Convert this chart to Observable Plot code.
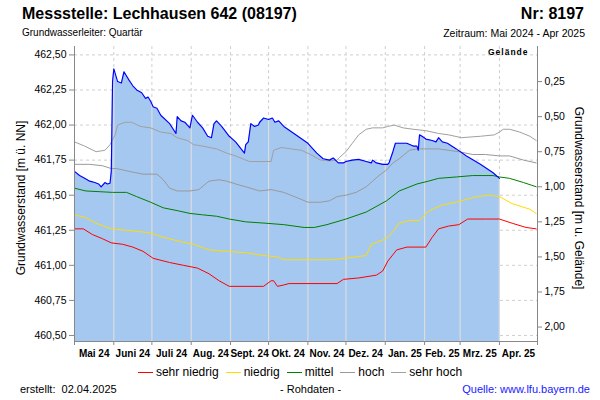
<!DOCTYPE html>
<html><head><meta charset="utf-8">
<script src="https://cdn.jsdelivr.net/npm/d3@7"></script>
<script src="https://cdn.jsdelivr.net/npm/@observablehq/plot@0.6"></script>
<style>
body{margin:0;background:#fff;font-family:"Liberation Sans",Arial,sans-serif;}
#wrap{position:relative;width:600px;height:400px;overflow:hidden;background:#fff;}
.t{position:absolute;white-space:nowrap;color:#000;}
#chart{position:absolute;left:0;top:40px;}
#legend{position:absolute;left:0;top:366px;width:600px;display:flex;justify-content:center;font-size:12px;line-height:12px;}
#legend .it{display:flex;align-items:center;margin:0 3.5px;}
#legend .sw{display:inline-block;width:15px;height:0;border-top:1px solid;margin-right:3px;margin-top:1px;}
</style></head><body>
<div id="wrap">
 <div class="t" style="left:22px;top:6px;font-size:16px;line-height:16px;font-weight:bold">Messstelle: Lechhausen 642 (08197)</div>
 <div class="t" style="right:16px;top:6px;font-size:16px;line-height:16px;font-weight:bold">Nr: 8197</div>
 <div class="t" style="left:22px;top:28px;font-size:10px;line-height:10px">Grundwasserleiter: Quartär</div>
 <div class="t" style="right:15px;top:27.5px;font-size:10.5px;line-height:10.5px">Zeitraum: Mai 2024 - Apr 2025</div>
 <div id="chart"></div>
 <div id="legend"></div>
 <div class="t" style="left:20px;top:384px;font-size:11px;line-height:11px">erstellt:&nbsp; 02.04.2025</div>
 <div class="t" style="left:280px;top:384px;font-size:11px;line-height:11px">- Rohdaten -</div>
 <div class="t" style="right:10px;top:384px;font-size:11px;line-height:11px;color:#1a1aff">Quelle: www.lfu.bayern.de</div>
</div>
<script>
// ---- data ----
const monthLabels = ["Mai 24","Juni 24","Juli 24","Aug. 24","Sept. 24","Okt. 24","Nov. 24","Dez. 24","Jan. 25","Feb. 25","Mrz. 25","Apr. 25"];
const yTicks = [460.5, 460.75, 461.0, 461.25, 461.5, 461.75, 462.0, 462.25, 462.5];
const depthTicks = [0.25, 0.5, 0.75, 1.0, 1.25, 1.5, 1.75, 2.0];
const gelaende = 462.56;      // ground level [m ü. NN]
const yBottom = 460.457;      // lower end of the value axis
const periodStart = "2024-05-01", periodEnd = "2025-05-01";

const messwerte = [["2024-05-01",461.67],["2024-05-05",461.64],["2024-05-09",461.62],["2024-05-13",461.60],["2024-05-17",461.59],["2024-05-20",461.58],["2024-05-22",461.56],["2024-05-25",461.59],["2024-05-27",461.58],["2024-05-29",461.585],["2024-05-30",461.67],["2024-05-31",462.31],["2024-06-01",462.40],["2024-06-04",462.31],["2024-06-07",462.30],["2024-06-09",462.38],["2024-06-13",462.32],["2024-06-16",462.28],["2024-06-19",462.25],["2024-06-23",462.23],["2024-06-26",462.19],["2024-06-28",462.20],["2024-06-30",462.17],["2024-07-02",462.13],["2024-07-05",462.12],["2024-07-08",462.07],["2024-07-15",462.01],["2024-07-20",461.94],["2024-07-21",462.06],["2024-07-24",462.03],["2024-07-27",462.02],["2024-07-29",462.00],["2024-07-31",461.98],["2024-08-02",462.07],["2024-08-06",462.02],["2024-08-10",461.98],["2024-08-14",461.92],["2024-08-17",461.91],["2024-08-19",462.01],["2024-08-21",462.03],["2024-08-25",461.99],["2024-08-31",461.92],["2024-09-05",461.88],["2024-09-12",461.80],["2024-09-13",461.86],["2024-09-15",461.88],["2024-09-17",462.01],["2024-09-20",461.99],["2024-09-23",462.00],["2024-09-24",462.02],["2024-09-27",462.05],["2024-10-01",462.04],["2024-10-04",462.05],["2024-10-06",462.02],["2024-10-09",462.03],["2024-10-13",461.99],["2024-10-21",461.94],["2024-11-01",461.87],["2024-11-08",461.80],["2024-11-13",461.76],["2024-11-18",461.75],["2024-11-21",461.765],["2024-11-25",461.73],["2024-11-29",461.73],["2024-12-01",461.74],["2024-12-06",461.75],["2024-12-11",461.755],["2024-12-17",461.74],["2024-12-21",461.73],["2024-12-22",461.75],["2024-12-25",461.73],["2024-12-30",461.72],["2025-01-03",461.72],["2025-01-04",461.73],["2025-01-07",461.81],["2025-01-09",461.87],["2025-01-12",461.87],["2025-01-18",461.87],["2025-01-23",461.85],["2025-01-26",461.85],["2025-01-27",461.82],["2025-01-28",461.93],["2025-01-30",461.92],["2025-02-02",461.90],["2025-02-07",461.89],["2025-02-10",461.88],["2025-02-12",461.91],["2025-02-15",461.88],["2025-02-19",461.87],["2025-02-26",461.83],["2025-03-06",461.78],["2025-03-17",461.72],["2025-03-27",461.66],["2025-04-01",461.62]];

const sehrHoch = [["2024-05-01",461.88],["2024-05-09",461.85],["2024-05-18",461.81],["2024-05-25",461.82],["2024-05-29",461.86],["2024-06-02",461.93],["2024-06-04",462.00],["2024-06-10",462.02],["2024-06-15",462.02],["2024-06-22",461.99],["2024-06-30",461.98],["2024-07-08",461.95],["2024-07-16",461.94],["2024-07-21",461.91],["2024-07-29",461.89],["2024-08-03",461.86],["2024-08-10",461.85],["2024-08-21",461.83],["2024-08-29",461.80],["2024-09-05",461.78],["2024-09-13",461.75],["2024-09-16",461.74],["2024-10-03",461.74],["2024-10-05",461.82],["2024-10-11",461.84],["2024-10-19",461.83],["2024-10-27",461.82],["2024-11-03",461.79],["2024-11-11",461.75],["2024-11-18",461.745],["2024-11-24",461.75],["2024-11-26",461.77],["2024-12-01",461.81],["2024-12-06",461.87],["2024-12-11",461.93],["2024-12-17",461.97],["2024-12-22",461.98],["2024-12-30",461.98],["2025-01-03",461.99],["2025-01-08",462.00],["2025-01-15",461.98],["2025-01-23",461.97],["2025-02-02",461.96],["2025-02-12",461.94],["2025-02-20",461.93],["2025-03-02",461.91],["2025-03-17",461.92],["2025-03-28",461.93],["2025-04-01",461.95],["2025-04-04",461.97],["2025-04-09",461.97],["2025-04-17",461.95],["2025-04-25",461.92],["2025-04-30",461.89]];

const hoch = [["2024-05-01",461.72],["2024-05-13",461.72],["2024-05-23",461.71],["2024-05-30",461.69],["2024-06-03",461.69],["2024-06-13",461.67],["2024-06-24",461.65],["2024-07-05",461.65],["2024-07-10",461.61],["2024-07-15",461.55],["2024-07-21",461.53],["2024-07-31",461.53],["2024-08-07",461.54],["2024-08-15",461.60],["2024-08-23",461.61],["2024-08-29",461.60],["2024-09-05",461.58],["2024-09-13",461.56],["2024-09-24",461.53],["2024-10-03",461.54],["2024-10-13",461.52],["2024-10-24",461.48],["2024-11-01",461.45],["2024-11-11",461.45],["2024-11-18",461.46],["2024-11-24",461.49],["2024-12-01",461.50],["2024-12-09",461.52],["2024-12-17",461.56],["2024-12-22",461.60],["2024-12-27",461.64],["2025-01-02",461.68],["2025-01-07",461.73],["2025-01-12",461.76],["2025-01-20",461.82],["2025-01-26",461.83],["2025-02-12",461.83],["2025-02-20",461.82],["2025-02-28",461.81],["2025-03-11",461.79],["2025-03-21",461.79],["2025-04-01",461.78],["2025-04-09",461.78],["2025-04-20",461.75],["2025-04-30",461.73]];

const mittel = [["2024-05-01",461.55],["2024-05-10",461.53],["2024-05-31",461.52],["2024-06-11",461.52],["2024-06-19",461.49],["2024-06-30",461.45],["2024-07-10",461.41],["2024-07-21",461.39],["2024-07-31",461.37],["2024-08-10",461.36],["2024-08-21",461.35],["2024-08-31",461.33],["2024-09-13",461.31],["2024-09-29",461.30],["2024-10-13",461.29],["2024-10-29",461.27],["2024-11-06",461.27],["2024-11-16",461.29],["2024-12-01",461.33],["2024-12-17",461.38],["2025-01-02",461.46],["2025-01-12",461.53],["2025-01-26",461.58],["2025-02-04",461.60],["2025-02-12",461.62],["2025-02-26",461.63],["2025-03-11",461.64],["2025-03-27",461.64],["2025-04-01",461.63],["2025-04-09",461.62],["2025-04-20",461.59],["2025-04-30",461.56]];

const niedrig = [["2024-05-01",461.36],["2024-05-10",461.34],["2024-05-18",461.30],["2024-05-30",461.26],["2024-06-11",461.25],["2024-06-22",461.24],["2024-06-30",461.23],["2024-07-10",461.20],["2024-07-23",461.17],["2024-08-03",461.15],["2024-08-15",461.11],["2024-08-29",461.10],["2024-09-13",461.09],["2024-09-27",461.07],["2024-10-08",461.06],["2024-10-13",461.04],["2024-11-21",461.04],["2024-11-29",461.05],["2024-12-09",461.06],["2024-12-17",461.07],["2024-12-21",461.15],["2024-12-27",461.17],["2025-01-02",461.19],["2025-01-07",461.24],["2025-01-12",461.30],["2025-01-20",461.32],["2025-01-28",461.32],["2025-02-02",461.37],["2025-02-07",461.40],["2025-02-15",461.43],["2025-02-26",461.45],["2025-03-06",461.47],["2025-03-14",461.49],["2025-03-24",461.50],["2025-04-01",461.49],["2025-04-11",461.44],["2025-04-25",461.40],["2025-04-30",461.37]];

const sehrNiedrig = [["2024-05-01",461.26],["2024-05-08",461.26],["2024-05-15",461.22],["2024-05-23",461.19],["2024-05-30",461.16],["2024-06-08",461.15],["2024-06-16",461.13],["2024-06-24",461.10],["2024-07-02",461.05],["2024-07-15",461.02],["2024-07-26",461.00],["2024-08-06",460.98],["2024-08-15",460.94],["2024-08-23",460.89],["2024-08-31",460.85],["2024-09-27",460.85],["2024-10-03",460.89],["2024-10-05",460.89],["2024-10-08",460.85],["2024-10-13",460.86],["2024-10-17",460.87],["2024-11-24",460.87],["2024-11-29",460.90],["2024-12-11",460.91],["2024-12-25",460.93],["2024-12-30",460.96],["2025-01-03",461.03],["2025-01-10",461.11],["2025-01-18",461.13],["2025-02-02",461.13],["2025-02-07",461.20],["2025-02-12",461.26],["2025-02-20",461.28],["2025-02-28",461.29],["2025-03-07",461.33],["2025-03-21",461.33],["2025-04-01",461.33],["2025-04-11",461.30],["2025-04-22",461.27],["2025-04-30",461.26]];

const series = [
  {name:"sehr niedrig", data:sehrNiedrig, color:"#ff0000"},
  {name:"niedrig", data:niedrig, color:"#ffdd00"},
  {name:"mittel", data:mittel, color:"#008000"},
  {name:"hoch", data:hoch, color:"#999999"},
  {name:"sehr hoch", data:sehrHoch, color:"#a0a0a0"}
];

// ---- build ----
const parse = d3.utcParse("%Y-%m-%d");
const toRows = arr => arr.map(([d, v]) => ({date: parse(d), value: v}));
const mess = toRows(messwerte);
const x0 = parse(periodStart), x1 = parse(periodEnd);
const monthStarts = d3.utcMonth.range(x0, d3.utcDay.offset(x1, 1));
const monthMids = monthStarts.slice(0, -1).map((d, i) => new Date((+d + +monthStarts[i + 1]) / 2));
const fmt = v => v.toFixed(2).replace(".", ",");
const bis = d3.bisector(d => d.date).left;
function levelAt(t) {
  const i = bis(mess, t);
  if (i <= 0) return mess[0].value;
  if (i >= mess.length) return mess[mess.length - 1].value;
  const a = mess[i - 1], b = mess[i];
  return a.value + (b.value - a.value) * (t - a.date) / (b.date - a.date);
}
const innerMonths = monthStarts.filter(d => d > mess[0].date && d <= mess[mess.length - 1].date);

const statMarks = series.map(s => Plot.line(toRows(s.data), {x: "date", y: "value", stroke: s.color, strokeWidth: 1}));

const chart = Plot.plot({
  width: 600, height: 322,
  marginLeft: 74, marginRight: 63, marginTop: 6, marginBottom: 21,
  x: {type: "utc", domain: [x0, x1]},
  y: {domain: [yBottom, gelaende]},
  style: {fontFamily: "'Liberation Sans', Arial, sans-serif", fontSize: "10.5px", color: "#000", background: "#fff", overflow: "visible"},
  marks: [
    Plot.gridY({ticks: yTicks, stroke: "#cfcfcf", strokeOpacity: 1, strokeDasharray: "3,3"}),
    Plot.gridX({ticks: monthStarts.slice(1, -1), stroke: "#cfcfcf", strokeOpacity: 1, strokeDasharray: "3,3"}),
    Plot.area(mess, {x1: "date", y1: () => yBottom, y2: "value", fill: "#a5c8f0"}),
    Plot.ruleX(innerMonths, {x: d => d, y1: () => yBottom, y2: d => levelAt(d), stroke: "#dcdcdc", strokeWidth: 1.2}),
    ...statMarks,
    Plot.line(mess, {x: "date", y: "value", stroke: "#0000ff", strokeWidth: 1.15}),
    Plot.ruleX([x0, x1], {stroke: "#888"}),
    Plot.ruleY([yBottom], {stroke: "#888"}),
    Plot.axisY({ticks: yTicks, anchor: "left", tickSize: 5, tickPadding: 3, tickFormat: fmt, label: null, stroke: "#888", fill: "#000"}),
    Plot.axisY({ticks: depthTicks.map(d => gelaende - d), anchor: "right", tickSize: 4, tickPadding: 3, tickFormat: v => fmt(gelaende - v), label: null, stroke: "#888", fill: "#000"}),
    Plot.axisX({ticks: monthStarts, tickSize: 4, tickFormat: () => "", label: null, stroke: "#888"}),
    Plot.axisX({ticks: monthMids, tickSize: 0, tickPadding: 8, tickFormat: (d, i) => monthLabels[i], label: null, fontWeight: "bold", fontSize: 10, fill: "#000"}),
    Plot.text(["Gelände"], {frameAnchor: "top-right", dx: -9, dy: 2, textAnchor: "end", lineAnchor: "top", fontSize: 8.5, fontWeight: "bold"}),
    Plot.text(["Grundwasserstand [m ü. NN]"], {frameAnchor: "left", dx: -53, dy: 4, rotate: -90, textAnchor: "middle", fontSize: 12}),
    Plot.text(["Grundwasserstand [m u. Gelände]"], {frameAnchor: "right", dx: 41, dy: 4, rotate: 90, textAnchor: "middle", fontSize: 12})
  ]
});
chart.querySelectorAll("text").forEach(t => { if (t.textContent === "Gelände") t.setAttribute("letter-spacing", "1"); });
document.getElementById("chart").appendChild(chart);

const legend = document.getElementById("legend");
series.forEach(s => {
  const it = document.createElement("span"); it.className = "it";
  const sw = document.createElement("span"); sw.className = "sw"; sw.style.borderTopColor = s.color;
  const tx = document.createElement("span"); tx.textContent = s.name;
  it.appendChild(sw); it.appendChild(tx); legend.appendChild(it);
});
</script>
</body></html>
